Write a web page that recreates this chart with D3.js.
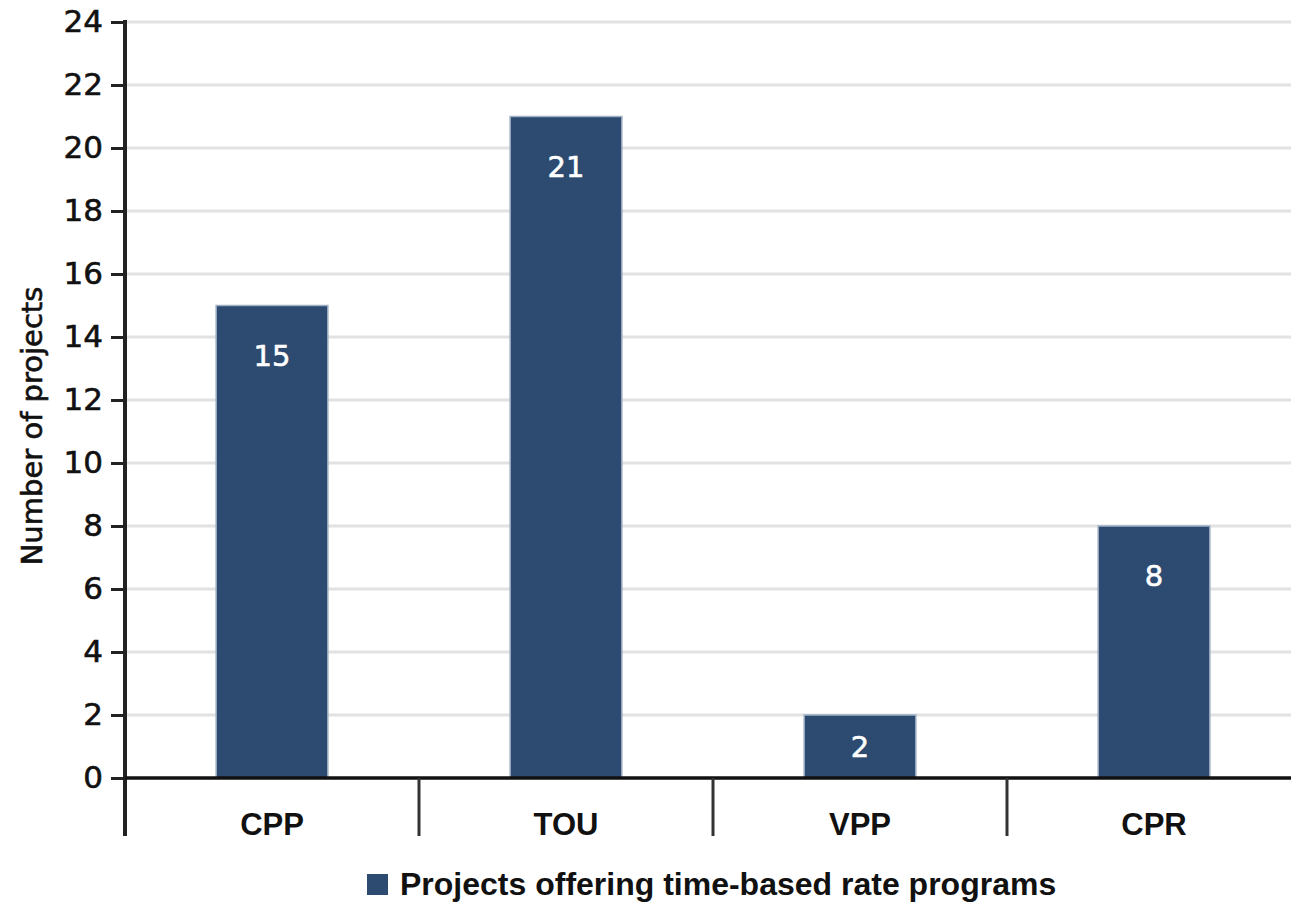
<!DOCTYPE html>
<html>
<head>
<meta charset="utf-8">
<script src="https://cdn.jsdelivr.net/npm/d3@7"></script>
<style>
  html, body { margin: 0; padding: 0; background: #fff; }
  svg { display: block; }
</style>
</head>
<body>
<svg id="chart" width="1291" height="903"></svg>
<script>
// Time-based rate programs offered by projects
const categories = ["CPP", "TOU", "VPP", "CPR"];
const projectCounts = [15, 21, 2, 8];
const yTicks = [0, 2, 4, 6, 8, 10, 12, 14, 16, 18, 20, 22, 24];
const seriesName = "Projects offering time-based rate programs";
const yTitle = "Number of projects";

const svg = d3.select("#chart");
const margin = { left: 125, right: -10, top: 22, bottom: 125 };
const W = 1291, H = 903;
const plotBottom = H - margin.bottom;
const barColor = "#2d4a70";
const font = "'Liberation Sans', Arial, sans-serif";
const numFont = "'DejaVu Sans', sans-serif";

const x = d3.scaleBand().domain(categories).range([margin.left, W - margin.right]).padding(0);
const y = d3.scaleLinear().domain([0, 24]).range([plotBottom, margin.top]);
const barFrac = 0.38;

// horizontal gridlines
svg.append("g").selectAll("line").data(yTicks.filter(d => d > 0)).join("line")
  .attr("x1", margin.left).attr("x2", W)
  .attr("y1", d => y(d)).attr("y2", d => y(d))
  .attr("stroke", "#e2e2e2").attr("stroke-width", 3);

// bars
const bw = x.bandwidth() * barFrac;
svg.append("g").selectAll("rect").data(categories).join("rect")
  .attr("x", (d) => x(d) + (x.bandwidth() - bw) / 2)
  .attr("y", (d, i) => y(projectCounts[i]))
  .attr("width", bw)
  .attr("height", (d, i) => plotBottom - y(projectCounts[i]))
  .attr("fill", barColor)
  .attr("stroke", "#9fb0c4").attr("stroke-width", 1.5);

// value labels inside bars
svg.append("g").selectAll("text").data(categories).join("text")
  .attr("x", d => x(d) + x.bandwidth() / 2)
  .attr("y", (d, i) => {
    const top = y(projectCounts[i]);
    return Math.min(top + 50, (top + plotBottom) / 2);
  })
  .attr("dy", "0.36em")
  .attr("text-anchor", "middle")
  .attr("fill", "#fff")
  .attr("stroke", "#fff").attr("stroke-width", 0.6)
  .attr("font-family", numFont)
  .attr("font-size", 29)
  .text((d, i) => projectCounts[i]);

// y axis
const yAxis = d3.axisLeft(y).tickValues(yTicks).tickSize(14).tickPadding(8);
const gy = svg.append("g").attr("transform", `translate(${margin.left},0)`).call(yAxis);
gy.select(".domain").remove();
gy.selectAll(".tick line").attr("stroke", "#222").attr("stroke-width", 3);
gy.selectAll(".tick text")
  .attr("font-family", numFont).attr("font-size", 31).attr("fill", "#111")
  .attr("stroke", "#111").attr("stroke-width", 0.6);
svg.append("line")
  .attr("x1", margin.left).attr("x2", margin.left)
  .attr("y1", margin.top - 2).attr("y2", plotBottom + 58)
  .attr("stroke", "#222").attr("stroke-width", 4);

// x axis baseline and category separators
svg.append("line")
  .attr("x1", margin.left).attr("x2", W)
  .attr("y1", plotBottom).attr("y2", plotBottom)
  .attr("stroke", "#111").attr("stroke-width", 3.5);
svg.append("g").selectAll("line").data(categories.slice(1)).join("line")
  .attr("x1", d => x(d)).attr("x2", d => x(d))
  .attr("y1", plotBottom).attr("y2", plotBottom + 58)
  .attr("stroke", "#333").attr("stroke-width", 3);
svg.append("g").selectAll("text").data(categories).join("text")
  .attr("x", d => x(d) + x.bandwidth() / 2)
  .attr("y", plotBottom + 57)
  .attr("text-anchor", "middle")
  .attr("font-family", font)
  .attr("font-size", 31)
  .attr("font-weight", 700)
  .attr("fill", "#111")
  .text(d => d);

// y axis title
svg.append("text")
  .attr("transform", `translate(42,${(margin.top + plotBottom) / 2 + 26}) rotate(-90)`)
  .attr("text-anchor", "middle")
  .attr("font-family", numFont)
  .attr("font-size", 29)
  .attr("fill", "#111")
  .attr("stroke", "#111").attr("stroke-width", 0.6)
  .text(yTitle);

// legend
const lg = svg.append("g").attr("transform", "translate(367,874)");
lg.append("rect").attr("x", 0).attr("y", 0).attr("width", 21).attr("height", 21).attr("fill", barColor);
lg.append("text")
  .attr("x", 33).attr("y", 21)
  .attr("font-family", "'Liberation Sans Narrow', 'Liberation Sans', sans-serif")
  .attr("font-size", 32)
  .attr("font-weight", 700)
  .attr("fill", "#111")
  .text(seriesName);
</script>
</body>
</html>
